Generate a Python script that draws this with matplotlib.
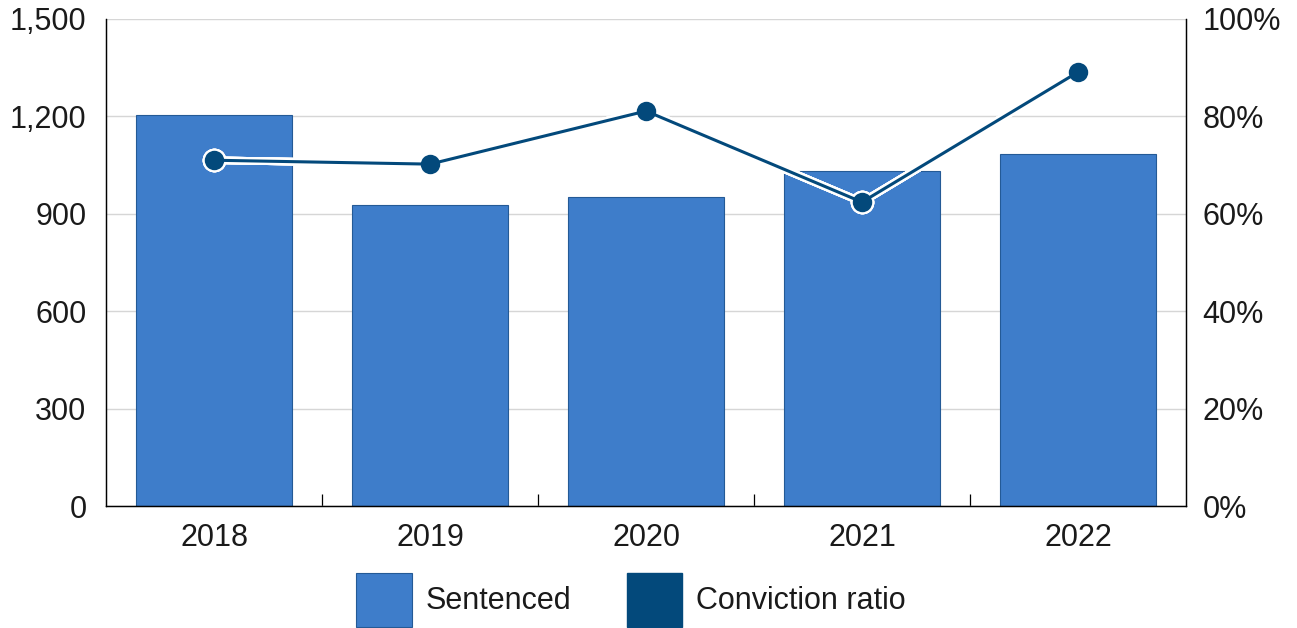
import numpy as np
import matplotlib
matplotlib.use("Agg")
from matplotlib import pyplot as plt
from matplotlib.patches import Patch
from matplotlib.ticker import FuncFormatter, MultipleLocator

years = ["2018", "2019", "2020", "2021", "2022"]
sentenced = [1204, 927, 952, 1032, 1084]
conviction_ratio = [71.0, 70.2, 81.1, 62.4, 89.1]

bar_color = "#3e7dca"
bar_edge = "#245a96"
line_color = "#03497b"
text_color = "#1a1a1a"

plt.rcParams["font.family"] = ["Liberation Sans", "DejaVu Sans"]
plt.rcParams["font.size"] = 22
plt.rcParams["text.color"] = text_color

fig = plt.figure(figsize=(12.97, 6.28), dpi=100)
ax = fig.add_axes([106 / 1297, 1 - 506 / 628, 1080 / 1297, 487 / 628])
ax2 = ax.twinx()

x = np.arange(len(years))
bars = ax.bar(x, sentenced, width=0.72, color=bar_color, edgecolor=bar_edge, linewidth=0.8)

ax.set_xlim(-0.5, len(years) - 0.5)
ax.set_ylim(0, 1500)
ax.yaxis.set_major_locator(MultipleLocator(300))
ax.yaxis.set_major_formatter(FuncFormatter(lambda v, p: "{:,.0f}".format(v)))
ax.set_axisbelow(True)
ax.grid(axis="y", color="#d6d6d6", linewidth=1)
ax.set_xticks(x)
ax.set_xticklabels(years)
ax.set_xticks(x[:-1] + 0.5, minor=True)
ax.tick_params(axis="x", which="major", length=0, pad=12, colors=text_color)
ax.tick_params(axis="x", which="minor", direction="in", length=8.5, width=0.9)
ax.tick_params(axis="y", length=0, pad=14, colors=text_color)

ax2.set_ylim(0, 100)
ax2.yaxis.set_major_locator(MultipleLocator(20))
ax2.yaxis.set_major_formatter(FuncFormatter(lambda v, p: "{:.0f}%".format(v)))
ax2.tick_params(axis="y", length=0, pad=12, colors=text_color)

for a in (ax, ax2):
    a.spines["top"].set_visible(False)
    for s in ("left", "right", "bottom"):
        a.spines[s].set_linewidth(0.9)
        a.spines[s].set_color("black")

# white halo where the line crosses the bars
for b in bars:
    ax2.plot(x, conviction_ratio, color="white", linewidth=5.5, marker="o",
             markersize=17, markeredgewidth=0, solid_capstyle="round", clip_path=b)

ax2.plot(x, conviction_ratio, color=line_color, linewidth=2.2, marker="o",
         markersize=14, markeredgewidth=0)

handles = [Patch(facecolor=bar_color, edgecolor=bar_edge, linewidth=0.8),
           Patch(facecolor=line_color, edgecolor=line_color)]
fig.legend(handles, ["Sentenced", "Conviction ratio"], loc="upper center",
           bbox_to_anchor=(631 / 1297, 1 - 573 / 628), ncol=2, frameon=False,
           handlelength=1.83, handleheight=2.33, handletextpad=0.46,
           columnspacing=1.8, borderpad=0, borderaxespad=0, fontsize=22)

fig.savefig("out.png", dpi=100)
